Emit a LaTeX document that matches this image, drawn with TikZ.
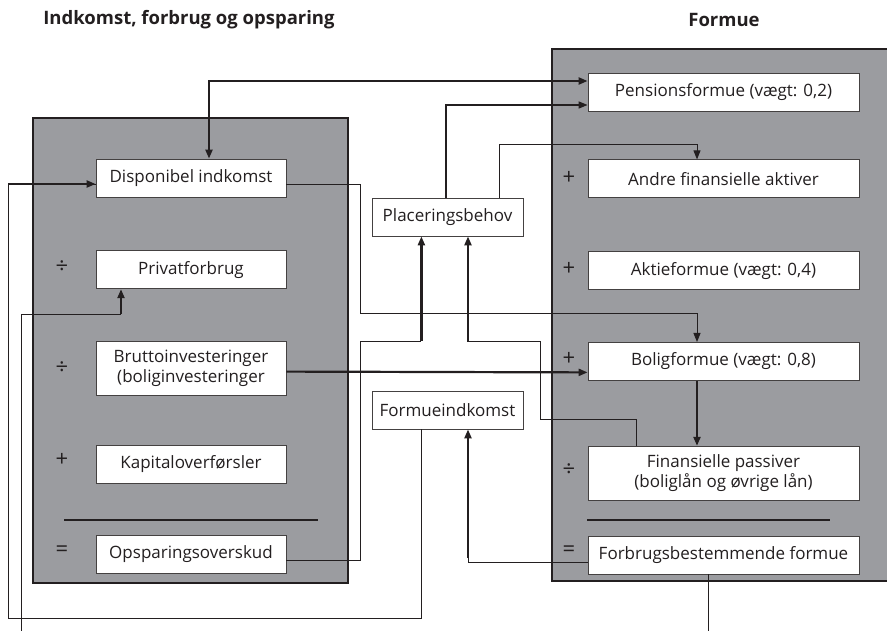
\documentclass[tikz,border=0pt]{standalone}
\usepackage{fontspec}
\setmainfont{Open Sans}
\usetikzlibrary{positioning,arrows.meta}
\definecolor{ink}{RGB}{35,31,32}
\definecolor{panelgray}{RGB}{155,156,160}

\begin{document}
\begin{tikzpicture}[
    x=1pt,y=-1pt,
    >={Triangle[length=9pt,width=7pt]},
    every node/.style={font=\fontsize{17}{20}\selectfont,text=ink},
    title/.style={font=\fontsize{18.5}{20}\selectfont\bfseries},
    panel/.style={draw=ink,line width=2.7pt,fill=panelgray},
    box/.style={draw=ink!85,line width=0.8pt,fill=white,minimum height=38pt,align=center,inner sep=0pt},
    lbox/.style={box,minimum width=190pt},
    rbox/.style={box,minimum width=271pt},
    mbox/.style={box,minimum width=151pt},
    sign/.style={inner sep=0pt,font=\fontsize{22}{22}\selectfont},
    rule/.style={draw=ink,line width=2pt},
    wire/.style={draw=ink,line width=0.9pt},
    heavy/.style={draw=ink,line width=2.2pt}
]
\useasboundingbox (0,0) rectangle (887,631);
\clip (0,0) rectangle (887,631);

% Headings
\node[title] (tL) at (189,20) {Indkomst, forbrug og opsparing};
\node[title] (tR) at (724,20) {Formue};

% Panels
\draw[panel] (33,118) rectangle (348,583);
\draw[panel] (552,49) rectangle (895,581);

% Income side
\node[lbox] (disp) at (191,178) {Disponibel indkomst};
\node[lbox,below=53pt of disp] (priv) {Privatforbrug};
\node[lbox,minimum height=54pt,below=52pt of priv] (brutto) {Bruttoinvesteringer\\(boliginvesteringer};
\node[lbox,below=49pt of brutto] (kap) {Kapitaloverførsler};
\node[lbox,below=51pt of kap] (ops) {Opsparingsoverskud};
\draw[rule] (64,520) -- (318,520);

\node[sign] (s1) at (62,267) {÷};
\node[sign] (s2) at (62,368) {÷};
\node[sign] (s3) at (62,460) {+};
\node[sign] (s4) at (62,551) {=};

% Middle
\node[mbox] (plac) at (447.5,217) {Placeringsbehov};
\node[mbox] (findk) at (447.5,410) {Formueindkomst};

% Wealth side
\node[rbox] (pens) at (723.5,92) {Pensionsformue (vægt: 0,2)};
\node[rbox,below=48pt of pens] (andre) {Andre finansielle aktiver};
\node[rbox,below=53pt of andre] (aktie) {Aktieformue (vægt: 0,4)};
\node[rbox,below=52pt of aktie] (bolig) {Boligformue (vægt: 0,8)};
\node[rbox,minimum height=54pt,below=65pt of bolig] (pas) {Finansielle passiver\\(boliglån og øvrige lån)};
\node[rbox,below=35pt of pas] (fbf) {Forbrugsbestemmende formue};
\draw[rule] (587,520) -- (830,520);

\node[sign] (r1) at (569,178) {+};
\node[sign] (r2) at (569,269) {+};
\node[sign] (r3) at (569,359) {+};
\node[sign] (r4) at (569,470) {÷};
\node[sign] (r5) at (569,551) {=};

% Connectors
\draw[heavy,<->] ([xshift=18pt]disp.north) |- ([yshift=11pt]pens.west);
\draw[draw=ink,line width=1.5pt,->] ([xshift=-1.5pt]plac.north) |- ([yshift=-13pt]pens.west);
\draw[wire,->] ([xshift=51.5pt]plac.north) -- ++(0,-53) -| ([xshift=-26.5pt]andre.north);
\draw[wire,->] ([yshift=-6pt]disp.east) -- ++(74,0) -- ++(0,129) -| ([xshift=-26.5pt]bolig.north);
\draw[heavy,->] ([yshift=-3pt]brutto.east) -- ([yshift=-11pt]bolig.west);
\draw[heavy,->] ([xshift=-26.5pt]bolig.south) -- ([xshift=-26.5pt]pas.north);

% Savings into placement
\draw[wire] ([yshift=-6pt]ops.east) -- ++(74,0) -- ++(0,-219) -- ++(61,0) coordinate (k1);
\draw[heavy,->] (k1) -- (k1 |- plac.south);
\draw[wire] ([xshift=-87.5pt]pas.north) -- ++(0,-26) -- ++(-96,0) -- ++(0,-78) -- ++(-72,0) coordinate (k2);
\draw[heavy,->] (k2) -- (k2 |- plac.south);

% Wealth income loop
\draw[wire] ([yshift=-7pt]fbf.west) -| coordinate[pos=1] (k3) ([xshift=20.5pt]findk.south |- 0,558);
\draw[heavy,->] (k3) -- ([xshift=20.5pt]findk.south);
\draw[wire] ([xshift=-26.5pt]findk.south) -- ++(0,189) -- ++(-413,0) |- coordinate[pos=1] (k4) ([yshift=-6pt]disp.west);
\draw[heavy,->] (8,184) -- ([yshift=-6pt]disp.west);

% Lines leaving the frame
\coordinate (pbot) at (21,631);
\draw[wire] (pbot) -- ++(0,-317) -- ++(100,0) coordinate (k5);
\draw[heavy,->] (k5) -- (k5 |- priv.south);
\draw[wire] ([xshift=-15.5pt]fbf.south) -- ++(0,61);

\end{tikzpicture}
\end{document}
